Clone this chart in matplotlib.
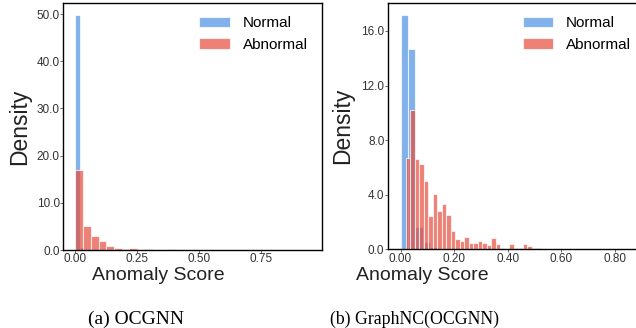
import numpy as np
import matplotlib
matplotlib.use('Agg')
import matplotlib.pyplot as plt

plt.rcParams['font.family'] = ['Liberation Sans', 'DejaVu Sans']

# (a) OCGNN: density histograms, bins given by start + width
a_normal_start, a_normal_width = 0.0, 0.0178
a_normal = [49.7, 0.6, 0.3, 0.15]
a_abnormal_start, a_abnormal_width = 0.0, 0.0313
a_abnormal = [16.9, 5.07, 3.02, 2.0, 0.82, 0.4, 0.15, 0.42, 0.05, 0.2, 0.1, 0.0, 0.2]

# (b) GraphNC(OCGNN)
b_normal_start, b_normal_width = 0.0, 0.0275
b_normal = [17.2, 14.67, 1.65, 0.53, 0.2]
b_abnormal_start, b_abnormal_width = 0.019, 0.0168
b_abnormal = [6.67, 10.2, 6.6, 6.27, 5.03, 2.46, 4.05, 2.83, 3.32, 2.51,
              1.36, 0.75, 0.6, 0.88, 0.48, 0.48, 0.6, 0.48, 0.34, 0.85,
              0.36, 0.12, 0.05, 0.36, 0.1, 0.07, 0.36, 0.24, 0.1, 0.1]

blue = '#4a90e2'
red = '#e74c3c'


def draw_hist(ax, start, width, heights, color, label):
    edges = start + width * np.arange(len(heights))
    return ax.bar(edges, heights, width=width, align='edge', color=color, alpha=0.7,
                  edgecolor='white', linewidth=0.8, label=label)


fig = plt.figure(figsize=(6.36, 3.28), dpi=100)
ax1 = fig.add_axes([0.0995, 0.2378, 0.4063, 0.754])
ax2 = fig.add_axes([0.610, 0.2399, 0.404, 0.752])

draw_hist(ax1, a_normal_start, a_normal_width, a_normal, blue, 'Normal')
draw_hist(ax1, a_abnormal_start, a_abnormal_width, a_abnormal, red, 'Abnormal')
draw_hist(ax2, b_normal_start, b_normal_width, b_normal, blue, 'Normal')
draw_hist(ax2, b_abnormal_start, b_abnormal_width, b_abnormal, red, 'Abnormal')

ax1.set_xlim(-0.0485, 0.996)
ax1.set_ylim(0, 52.4)
ax1.set_xticks([0, 0.25, 0.5, 0.75])
ax1.set_yticks([0, 10, 20, 30, 40, 50])
ax1.xaxis.set_major_formatter(matplotlib.ticker.FormatStrFormatter('%.2f'))
ax1.yaxis.set_major_formatter(matplotlib.ticker.FormatStrFormatter('%.1f'))

ax2.set_xlim(-0.047, 0.912)
ax2.set_ylim(0, 18.07)
ax2.set_xticks([0, 0.2, 0.4, 0.6, 0.8])
ax2.set_yticks([0, 4, 8, 12, 16])
ax2.xaxis.set_major_formatter(matplotlib.ticker.FormatStrFormatter('%.2f'))
ax2.yaxis.set_major_formatter(matplotlib.ticker.FormatStrFormatter('%.1f'))

for ax, xl, yl in [(ax1, (0.368, -0.105), (-0.1695, 0.5)), (ax2, (0.135, -0.108), (-0.175, 0.5))]:
    ax.tick_params(labelsize=8.5, labelcolor='#333333', length=2, width=0.6, pad=0.5, color='#555555')
    for s in ax.spines.values():
        s.set_color('black')
        s.set_linewidth(1.0)
    ax.set_xlabel('Anomaly Score', fontsize=14, color='#222222', va='center')
    ax.xaxis.set_label_coords(*xl)
    ax.set_ylabel('Density', fontsize=16.5, color='#222222', va='center')
    ax.yaxis.set_label_coords(*yl)
    ax.legend(loc='upper right', frameon=False, fontsize=11, handlelength=2.0,
              handletextpad=0.85, labelspacing=0.5)

fig.text(0.2134, 0.0274, '(a) OCGNN', family='Liberation Serif', fontsize=14,
         ha='center', va='center')
fig.text(0.6525, 0.0274, '(b) GraphNC(OCGNN)', family='Liberation Serif', fontsize=12.8,
         ha='center', va='center')

plt.savefig('out.png', dpi=100)
